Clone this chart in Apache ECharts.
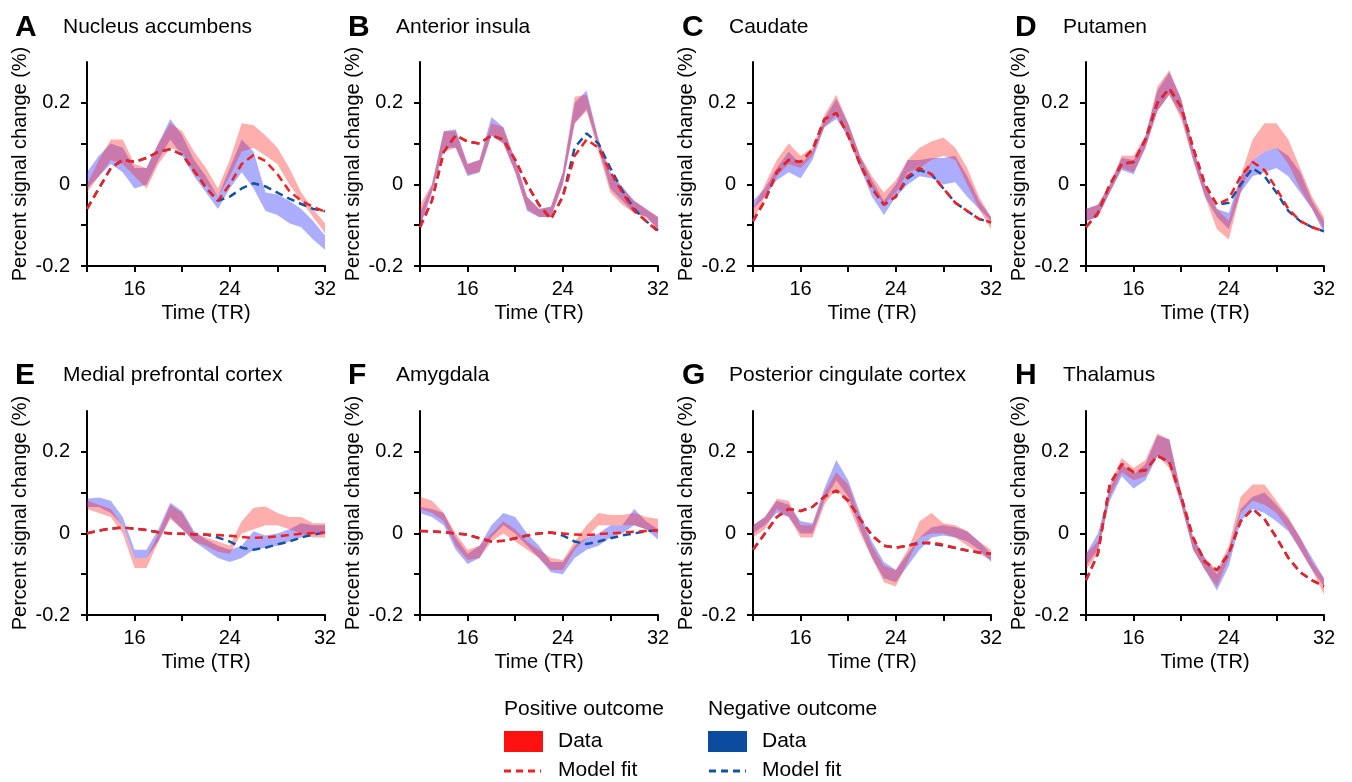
<!DOCTYPE html>
<html>
<head>
<meta charset="utf-8">
<script src="https://cdn.jsdelivr.net/npm/echarts@6/dist/echarts.min.js"></script>
<style>
html,body{margin:0;padding:0;background:#fff;}
#chart{width:1352px;height:782px;}
</style>
</head>
<body>
<div id="chart"></div>
<script>
var timeTR = ['12','13','14','15','16','17','18','19','20','21','22','23','24','25','26','27','28','29','30','31','32'];
var xTickLabels = ['16','24','32'];
var yTickLabels = [-0.2, 0, 0.2];
var yTicks = [-0.2, -0.1, 0, 0.1, 0.2];
var panelLetters = ['A','B','C','D','E','F','G','H'];
var panelNames = ['Nucleus accumbens','Anterior insula','Caudate','Putamen',
                  'Medial prefrontal cortex','Amygdala','Posterior cingulate cortex','Thalamus'];

// A - nucleus accumbens
var naccPosLo  = [-0.02,0.02,0.06,0.05,0.02,-0.01,0.05,0.09,0.08,0.03,0.0,-0.03,0.02,0.08,0.09,0.07,0.05,0.0,-0.04,-0.08,-0.12];
var naccPosHi  = [0.0,0.06,0.11,0.11,0.05,0.04,0.10,0.15,0.13,0.08,0.04,-0.01,0.06,0.15,0.145,0.12,0.09,0.04,-0.02,-0.06,-0.095];
var naccNegLo  = [-0.01,0.02,0.05,0.03,-0.01,0.0,0.06,0.11,0.07,0.02,-0.02,-0.06,-0.01,0.03,-0.01,-0.065,-0.075,-0.095,-0.105,-0.135,-0.16];
var naccNegHi  = [0.03,0.07,0.10,0.09,0.04,0.04,0.10,0.16,0.12,0.06,0.02,-0.03,0.04,0.11,0.08,-0.02,-0.025,-0.04,-0.06,-0.09,-0.125];
var naccPosFit = [-0.06,-0.01,0.04,0.06,0.055,0.065,0.08,0.086,0.073,0.033,-0.008,-0.04,0.0,0.05,0.072,0.057,0.025,-0.016,-0.04,-0.055,-0.067];
var naccNegFit = [-0.06,-0.01,0.04,0.06,0.055,0.065,0.08,0.086,0.073,0.033,-0.008,-0.04,-0.03,-0.01,0.003,-0.005,-0.02,-0.035,-0.048,-0.06,-0.066];

// B - anterior insula
var ainsPosLo  = [-0.10,-0.02,0.08,0.09,0.025,0.03,0.12,0.10,0.03,-0.06,-0.08,-0.08,0.0,0.15,0.18,0.08,-0.02,-0.05,-0.07,-0.08,-0.11];
var ainsPosHi  = [-0.05,0.0,0.13,0.13,0.05,0.06,0.15,0.14,0.06,-0.03,-0.06,-0.055,0.03,0.215,0.22,0.11,0.02,-0.01,-0.04,-0.06,-0.08];
var ainsNegLo  = [-0.105,-0.02,0.09,0.09,0.02,0.03,0.12,0.10,0.03,-0.065,-0.08,-0.08,0.0,0.15,0.185,0.09,-0.01,-0.04,-0.07,-0.08,-0.11];
var ainsNegHi  = [-0.07,0.0,0.13,0.135,0.05,0.06,0.165,0.14,0.06,-0.03,-0.06,-0.055,0.03,0.20,0.23,0.11,0.03,-0.005,-0.04,-0.06,-0.08];
var ainsPosFit = [-0.105,-0.04,0.08,0.12,0.105,0.10,0.12,0.11,0.06,0.0,-0.05,-0.085,-0.03,0.07,0.11,0.09,0.03,-0.02,-0.065,-0.09,-0.115];
var ainsNegFit = [-0.105,-0.04,0.08,0.12,0.105,0.10,0.12,0.11,0.06,0.0,-0.05,-0.085,-0.03,0.09,0.125,0.10,0.04,-0.015,-0.06,-0.09,-0.113];

// C - caudate
var caudPosLo  = [-0.09,-0.03,0.02,0.05,0.04,0.07,0.14,0.17,0.11,0.04,-0.01,-0.05,-0.02,0.03,0.04,0.06,0.07,0.06,0.0,-0.06,-0.11];
var caudPosHi  = [-0.06,0.0,0.06,0.10,0.07,0.09,0.17,0.22,0.15,0.07,0.02,-0.02,0.01,0.06,0.09,0.105,0.115,0.09,0.04,-0.03,-0.08];
var caudNegLo  = [-0.06,-0.03,0.01,0.03,0.015,0.06,0.14,0.16,0.12,0.04,-0.03,-0.075,-0.03,0.0,0.02,0.015,0.0,0.005,-0.03,-0.06,-0.09];
var caudNegHi  = [-0.04,-0.01,0.04,0.08,0.05,0.08,0.16,0.21,0.15,0.07,0.01,-0.04,0.0,0.06,0.06,0.065,0.065,0.07,0.02,-0.04,-0.08];
var caudPosFit = [-0.09,-0.04,0.03,0.06,0.055,0.085,0.16,0.175,0.12,0.05,-0.01,-0.05,-0.03,0.02,0.04,0.025,-0.01,-0.045,-0.065,-0.085,-0.093];
var caudNegFit = [-0.09,-0.04,0.03,0.06,0.055,0.085,0.16,0.175,0.12,0.05,-0.01,-0.05,-0.03,0.015,0.035,0.025,-0.01,-0.045,-0.065,-0.085,-0.093];

// D - putamen
var putPosLo  = [-0.09,-0.08,-0.02,0.04,0.03,0.09,0.18,0.22,0.16,0.06,-0.03,-0.11,-0.135,-0.02,0.06,0.08,0.09,0.05,-0.01,-0.06,-0.11];
var putPosHi  = [-0.06,-0.05,0.0,0.07,0.07,0.12,0.24,0.28,0.21,0.09,0.0,-0.06,-0.09,0.02,0.11,0.15,0.15,0.11,0.04,-0.03,-0.08];
var putNegLo  = [-0.09,-0.08,-0.02,0.035,0.025,0.09,0.18,0.22,0.17,0.06,-0.03,-0.08,-0.11,-0.02,0.02,0.03,0.04,0.02,-0.02,-0.06,-0.12];
var putNegHi  = [-0.06,-0.05,0.0,0.065,0.06,0.12,0.23,0.275,0.21,0.09,0.0,-0.06,-0.07,0.02,0.06,0.08,0.09,0.07,0.03,-0.04,-0.09];
var putPosFit = [-0.105,-0.07,0.0,0.05,0.055,0.11,0.20,0.235,0.19,0.09,0.0,-0.05,-0.035,0.02,0.055,0.035,-0.01,-0.06,-0.09,-0.105,-0.115];
var putNegFit = [-0.105,-0.07,0.0,0.05,0.055,0.11,0.20,0.235,0.19,0.09,0.0,-0.05,-0.045,0.0,0.04,0.02,-0.02,-0.065,-0.09,-0.105,-0.115];

// E - medial prefrontal cortex
var mpfcPosLo  = [0.06,0.05,0.04,0.0,-0.085,-0.085,-0.02,0.035,0.01,-0.02,-0.03,-0.045,-0.05,0.0,0.01,0.02,0.02,0.01,0.0,-0.01,-0.01];
var mpfcPosHi  = [0.08,0.07,0.06,0.02,-0.06,-0.06,0.0,0.07,0.05,0.0,-0.01,-0.02,-0.03,0.03,0.063,0.066,0.05,0.04,0.04,0.025,0.025];
var mpfcNegLo  = [0.065,0.065,0.05,0.02,-0.06,-0.06,-0.02,0.04,0.01,-0.02,-0.04,-0.06,-0.07,-0.06,-0.04,-0.035,-0.03,-0.02,-0.01,0.0,0.0];
var mpfcNegHi  = [0.085,0.088,0.08,0.04,-0.04,-0.04,0.01,0.075,0.055,0.005,-0.015,-0.03,-0.04,-0.03,0.005,-0.005,0.0,0.01,0.025,0.02,0.02];
var mpfcPosFit = [0.0,0.007,0.012,0.014,0.012,0.008,0.003,0.0,-0.001,-0.002,-0.003,-0.004,-0.006,-0.009,-0.011,-0.01,-0.007,-0.004,-0.001,0.001,0.002];
var mpfcNegFit = [0.0,0.007,0.012,0.014,0.012,0.008,0.003,0.0,-0.001,-0.002,-0.003,-0.01,-0.02,-0.035,-0.04,-0.035,-0.027,-0.02,-0.01,-0.003,0.002];

// F - amygdala
var amygPosLo  = [0.06,0.05,0.03,-0.03,-0.065,-0.06,-0.02,0.0,-0.02,-0.04,-0.06,-0.09,-0.09,-0.04,-0.01,0.02,0.02,0.02,0.02,0.01,0.0];
var amygPosHi  = [0.09,0.08,0.05,0.0,-0.04,-0.03,0.0,0.03,0.01,-0.02,-0.04,-0.06,-0.065,-0.02,0.02,0.05,0.045,0.045,0.05,0.04,0.035];
var amygNegLo  = [0.05,0.04,0.02,-0.04,-0.075,-0.06,-0.01,0.02,0.0,-0.03,-0.06,-0.095,-0.10,-0.06,-0.04,-0.03,-0.01,0.0,0.02,0.01,-0.015];
var amygNegHi  = [0.065,0.06,0.05,-0.01,-0.05,-0.03,0.02,0.05,0.04,0.0,-0.03,-0.07,-0.07,-0.03,-0.01,0.0,0.02,0.02,0.06,0.03,0.01];
var amygPosFit = [0.006,0.005,0.003,0.0,-0.003,-0.012,-0.02,-0.018,-0.012,-0.005,0.0,0.002,0.0,-0.003,-0.004,-0.002,0.0,0.002,0.004,0.006,0.008];
var amygNegFit = [0.006,0.005,0.003,0.0,-0.003,-0.012,-0.02,-0.018,-0.012,-0.005,0.0,0.002,-0.005,-0.02,-0.026,-0.02,-0.012,-0.005,0.0,0.005,0.008];

// G - posterior cingulate cortex
var pccPosLo  = [-0.01,0.01,0.06,0.04,-0.01,-0.01,0.07,0.11,0.07,0.0,-0.06,-0.12,-0.13,-0.07,-0.01,0.0,0.0,-0.01,-0.03,-0.05,-0.065];
var pccPosHi  = [0.02,0.04,0.085,0.08,0.02,0.02,0.10,0.15,0.12,0.04,-0.03,-0.08,-0.09,-0.04,0.03,0.05,0.025,0.02,0.005,-0.02,-0.04];
var pccNegLo  = [0.0,0.02,0.05,0.04,0.0,0.0,0.08,0.13,0.09,0.01,-0.06,-0.11,-0.12,-0.08,-0.04,-0.01,-0.005,-0.01,-0.02,-0.04,-0.07];
var pccNegHi  = [0.02,0.04,0.08,0.07,0.03,0.025,0.11,0.18,0.13,0.05,-0.02,-0.07,-0.09,-0.05,-0.01,0.015,0.02,0.015,0.005,-0.02,-0.05];
var pccPosFit = [-0.04,0.0,0.04,0.06,0.055,0.065,0.09,0.105,0.08,0.035,-0.005,-0.03,-0.035,-0.03,-0.025,-0.022,-0.028,-0.035,-0.042,-0.047,-0.05];
var pccNegFit = [-0.04,0.0,0.04,0.06,0.055,0.065,0.09,0.105,0.08,0.035,-0.005,-0.03,-0.035,-0.03,-0.022,-0.025,-0.03,-0.036,-0.042,-0.047,-0.05];

// H - thalamus
var thalPosLo  = [-0.09,-0.05,0.09,0.15,0.13,0.14,0.19,0.16,0.07,-0.04,-0.09,-0.13,-0.06,0.05,0.08,0.07,0.05,0.01,-0.04,-0.09,-0.15];
var thalPosHi  = [-0.05,-0.02,0.12,0.185,0.16,0.18,0.245,0.23,0.10,-0.01,-0.06,-0.09,-0.03,0.09,0.12,0.12,0.08,0.04,-0.01,-0.07,-0.11];
var thalNegLo  = [-0.08,-0.04,0.08,0.14,0.11,0.13,0.19,0.17,0.07,-0.04,-0.09,-0.14,-0.08,0.03,0.06,0.05,0.03,0.005,-0.04,-0.09,-0.13];
var thalNegHi  = [-0.05,0.0,0.11,0.17,0.145,0.17,0.24,0.23,0.10,-0.01,-0.06,-0.10,-0.04,0.06,0.09,0.10,0.07,0.035,-0.01,-0.06,-0.11];
var thalPosFit = [-0.115,-0.05,0.12,0.17,0.15,0.155,0.19,0.175,0.09,-0.01,-0.07,-0.09,-0.05,0.03,0.06,0.035,-0.01,-0.06,-0.095,-0.115,-0.13];
var thalNegFit = [-0.115,-0.05,0.12,0.17,0.15,0.155,0.19,0.175,0.09,-0.01,-0.07,-0.09,-0.05,0.03,0.06,0.035,-0.01,-0.06,-0.095,-0.115,-0.13];

var panels = [
    {posLo:naccPosLo, posHi:naccPosHi, negLo:naccNegLo, negHi:naccNegHi, posFit:naccPosFit, negFit:naccNegFit},
    {posLo:ainsPosLo, posHi:ainsPosHi, negLo:ainsNegLo, negHi:ainsNegHi, posFit:ainsPosFit, negFit:ainsNegFit},
    {posLo:caudPosLo, posHi:caudPosHi, negLo:caudNegLo, negHi:caudNegHi, posFit:caudPosFit, negFit:caudNegFit},
    {posLo:putPosLo,  posHi:putPosHi,  negLo:putNegLo,  negHi:putNegHi,  posFit:putPosFit,  negFit:putNegFit},
    {posLo:mpfcPosLo, posHi:mpfcPosHi, negLo:mpfcNegLo, negHi:mpfcNegHi, posFit:mpfcPosFit, negFit:mpfcNegFit},
    {posLo:amygPosLo, posHi:amygPosHi, negLo:amygNegLo, negHi:amygNegHi, posFit:amygPosFit, negFit:amygNegFit},
    {posLo:pccPosLo,  posHi:pccPosHi,  negLo:pccNegLo,  negHi:pccNegHi,  posFit:pccPosFit,  negFit:pccNegFit},
    {posLo:thalPosLo, posHi:thalPosHi, negLo:thalNegLo, negHi:thalNegHi, posFit:thalPosFit, negFit:thalNegFit}
];

var FONT = 'Liberation Sans, Arial, sans-serif';
var redBand = 'rgba(255,30,30,0.36)';
var blueBand = 'rgba(40,40,250,0.38)';
var redLine = '#f51f1f';
var blueLine = '#1552a3';
var gridLefts = [87, 420, 753, 1086];
var gridTops = [62, 411];

function diff(hi, lo) {
    return hi.map(function (v, i) { return +(v - lo[i]).toFixed(4); });
}

var grids = [], xAxes = [], yAxes = [], series = [], titles = [];

panels.forEach(function (p, k) {
    var col = k % 4, row = Math.floor(k / 4);
    grids.push({left: gridLefts[col], top: gridTops[row], width: 238, height: 204});

    xAxes.push({
        type: 'category', gridIndex: k, data: timeTR, boundaryGap: false,
        name: 'Time (TR)', nameLocation: 'middle', nameGap: 37,
        nameTextStyle: {fontSize: 20, color: '#000', fontFamily: FONT},
        axisLine: {onZero: false, lineStyle: {color: '#000', width: 2}},
        axisTick: {length: 6, lineStyle: {color: '#000', width: 2},
            interval: function (i, v) { return (+v) % 4 === 0; }},
        axisLabel: {fontSize: 20, color: '#000', fontFamily: FONT, margin: 13,
            interval: function (i, v) { return xTickLabels.indexOf(v) >= 0; }},
        splitLine: {show: false}
    });

    yAxes.push({
        type: 'value', gridIndex: k, min: -0.2, max: 0.3, interval: 0.1,
        name: 'Percent signal change (%)', nameLocation: 'middle', nameGap: 57,
        nameTextStyle: {fontSize: 20, color: '#000', fontFamily: FONT},
        axisLine: {show: true, onZero: false, lineStyle: {color: '#000', width: 2}},
        axisTick: {show: true, length: 6, lineStyle: {color: '#000', width: 2}, customValues: yTicks},
        axisLabel: {fontSize: 20, color: '#000', fontFamily: FONT, margin: 17, customValues: yTickLabels,
            formatter: function (v) {
                if (Math.abs(v) < 1e-9) return '0';
                if (Math.abs(Math.abs(v) - 0.2) < 1e-9) return v.toFixed(1);
                return '';
            }},
        splitLine: {show: false}
    });

    var base = {type: 'line', xAxisIndex: k, yAxisIndex: k, symbol: 'none', silent: true, animation: false};

    series.push(Object.assign({}, base, {
        data: p.negLo, stack: 'neg' + k, stackStrategy: 'all', lineStyle: {opacity: 0}
    }));
    series.push(Object.assign({}, base, {
        data: diff(p.negHi, p.negLo), stack: 'neg' + k, stackStrategy: 'all',
        lineStyle: {opacity: 0}, areaStyle: {color: blueBand, opacity: 1}
    }));
    series.push(Object.assign({}, base, {
        data: p.posLo, stack: 'pos' + k, stackStrategy: 'all', lineStyle: {opacity: 0}
    }));
    series.push(Object.assign({}, base, {
        data: diff(p.posHi, p.posLo), stack: 'pos' + k, stackStrategy: 'all',
        lineStyle: {opacity: 0}, areaStyle: {color: redBand, opacity: 1}
    }));
    series.push(Object.assign({}, base, {
        data: p.negFit, lineStyle: {color: blueLine, width: 2.5, type: [8, 5]}
    }));
    series.push(Object.assign({}, base, {
        data: p.posFit, lineStyle: {color: redLine, width: 2.5, type: [8, 5]}
    }));

    // title component has 5px padding, so positions are shifted back by it
    var letterLeft = [10, 343, 677, 1010][col];
    var nameLeft = [58, 391, 724, 1058][col];
    var top = row === 0 ? 8 : 356;
    titles.push({text: panelLetters[k], left: letterLeft, top: top,
        textStyle: {fontSize: 30, fontWeight: 'bold', color: '#000', fontFamily: FONT}});
    titles.push({text: panelNames[k], left: nameLeft, top: top + 4,
        textStyle: {fontSize: 21, fontWeight: 'normal', color: '#000', fontFamily: FONT}});
});

var legendFont = '21px ' + FONT;
var graphics = [
    {type: 'text', left: 504, top: 699, style: {text: 'Positive outcome', font: legendFont, fill: '#000'}},
    {type: 'rect', shape: {x: 504, y: 731, width: 39, height: 21}, style: {fill: '#fc1010'}},
    {type: 'text', left: 558, top: 731, style: {text: 'Data', font: legendFont, fill: '#000'}},
    {type: 'line', shape: {x1: 504, y1: 771, x2: 541, y2: 771}, style: {stroke: redLine, lineWidth: 3, lineDash: [7, 5]}},
    {type: 'text', left: 558, top: 760, style: {text: 'Model fit', font: legendFont, fill: '#000'}},
    {type: 'text', left: 708, top: 699, style: {text: 'Negative outcome', font: legendFont, fill: '#000'}},
    {type: 'rect', shape: {x: 708, y: 731, width: 39, height: 21}, style: {fill: '#0b4c9e'}},
    {type: 'text', left: 762, top: 731, style: {text: 'Data', font: legendFont, fill: '#000'}},
    {type: 'line', shape: {x1: 709, y1: 771, x2: 746, y2: 771}, style: {stroke: blueLine, lineWidth: 3, lineDash: [7, 5]}},
    {type: 'text', left: 762, top: 760, style: {text: 'Model fit', font: legendFont, fill: '#000'}}
];

var myChart = echarts.init(document.getElementById('chart'));
myChart.setOption({
    backgroundColor: '#fff',
    animation: false,
    title: titles,
    grid: grids,
    xAxis: xAxes,
    yAxis: yAxes,
    series: series,
    graphic: graphics
});
</script>
</body>
</html>
